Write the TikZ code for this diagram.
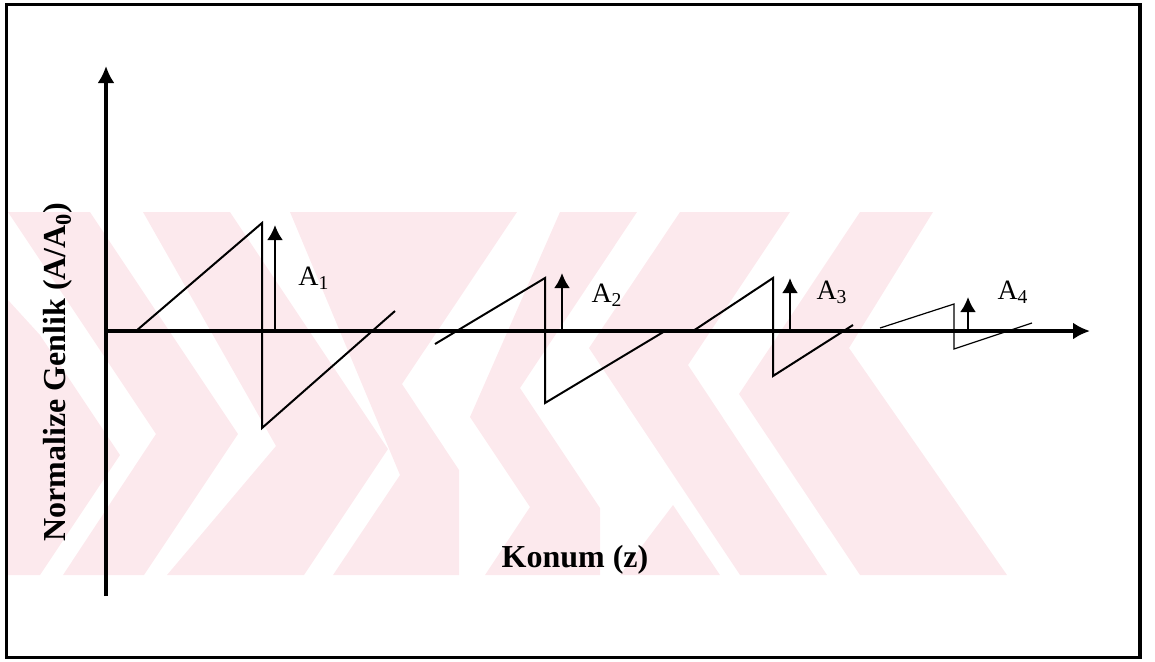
\documentclass[tikz,border=0pt]{standalone}
\usepackage{fontspec}
\setmainfont{Liberation Serif}
\usetikzlibrary{arrows.meta}
\definecolor{wmpink}{RGB}{252,233,237}

\tikzset{
    axis/.style={line width=1.6pt, -{Latex[length=8.5pt,width=8.5pt]}},
    ampl/.style={line width=1.3pt, -{Latex[length=7.5pt,width=8pt]}},
    saw/.style={line width=1pt, line join=miter},
    lbl/.style={font=\fontsize{14}{16}\selectfont, inner sep=0pt},
    axlbl/.style={font=\fontsize{16}{19}\selectfont\bfseries, inner sep=0pt}
}

\begin{document}
\begin{tikzpicture}[x=0.5pt, y=-0.5pt]
    \useasboundingbox (0,0) rectangle (1155,661);
    % filigran
    \begin{scope}
        \clip (8,212) rectangle (1010,575);
        \fill[wmpink] (8,212) -- (90,212) -- (238,434) -- (144,575) -- (63,575) -- (156,434) -- cycle;
        \fill[wmpink] (143,212) -- (230,212) -- (388,449) -- (304,575) -- (167,575) -- (276,446) -- cycle;
        \fill[wmpink] (8,300) -- (8,575) -- (40,575) -- (120,455) -- (40,335) -- cycle;
        \fill[wmpink] (290,212) -- (517,212) -- (402,384) -- (459,470) -- (459,575) -- (333,575) -- (400,475) -- cycle;
        \fill[wmpink] (560,212) -- (637,212) -- (520,388) -- (600,508) -- (600,575) -- (485,575) -- (530,507) -- (470,417) -- cycle;
        \fill[wmpink] (680,212) -- (790,212) -- (688,365) -- (827,575) -- (740,575) -- (589,348) -- cycle;
        \fill[wmpink] (860,212) -- (933,212) -- (849,348) -- (1007,575) -- (860,575) -- (739,394) -- cycle;
        \fill[wmpink] (620,575) -- (720,575) -- (673,505) -- cycle;
    \end{scope}
    % cerceve
    \draw[line width=1.7pt] (6.5,4.5) rectangle (1140,657.5);
    % eksenler
    \coordinate (O) at (106,331);
    \coordinate (ybot) at (106,596);
    \coordinate (ytip) at (106,66);
    \coordinate (xtip) at (1090,331);
    \draw[axis] (ybot) -- (ytip);
    \draw[axis] (O) -- (xtip);
    \node[axlbl, rotate=90] (ylabel) at (58,372) {Normalize Genlik (A/A\textsubscript{0})};
    \node[axlbl] (xlabel) at (575,560) {Konum (z)};
    % testere dislisi
    \draw[saw] (136,331) -- (262,223) -- (262,428) -- (395,311);
    \draw[saw] (435,344) -- (545,278) -- (545,403) -- (665,331);
    \draw[saw] (693,331) -- (773,278) -- (773,376) -- (853,325);
    \draw[saw, line width=0.6pt] (880,328) -- (954,304) -- (954,349) -- (1032,323);
    % genlikler
    \foreach \x/\t/\lx/\ly/\i in {275/225/314/278/1, 562/273/607/295/2,
                                  790/278/832/292/3, 968/297/1013/292/4} {
        \coordinate (a\i b) at (\x,331);
        \coordinate (a\i t) at (\x,\t);
        \draw[ampl] (a\i b) -- (a\i t);
        \node[lbl] (A\i) at (\lx,\ly) {A\textsubscript{\i}};
    }
\end{tikzpicture}
\end{document}
